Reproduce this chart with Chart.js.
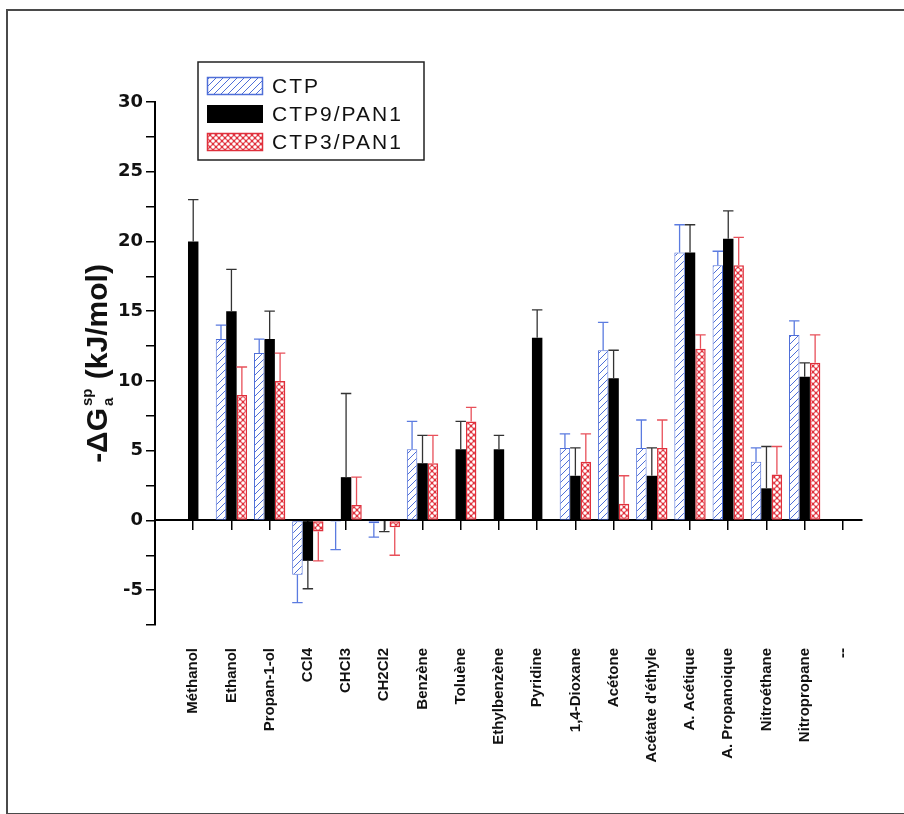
<!DOCTYPE html>
<html>
<head>
<meta charset="utf-8">
<script src="https://cdn.jsdelivr.net/npm/chart.js@4.4.0/dist/chart.umd.min.js"></script>
<style>
  html, body { margin: 0; padding: 0; background: #fff; overflow: hidden; }
  #cadre { position: absolute; left: 6px; top: 9px; width: 1000px; height: 802px; border: 2px solid #4a4a4a; border-right: none; }
  #zone { position: absolute; left: 0; top: 0; width: 904px; height: 814px; }
</style>
</head>
<body>
<div id="cadre"></div>
<div id="zone"><canvas id="graphique" width="904" height="814"></canvas></div>
<script>
const solvants = ['Méthanol', 'Ethanol', 'Propan-1-ol', 'CCl4', 'CHCl3', 'CH2Cl2', 'Benzène', 'Toluène', 'Ethylbenzène', 'Pyridine', '1,4-Dioxane', 'Acétone', "Acétate d'éthyle", 'A. Acétique', 'A. Propanoique', 'Nitroéthane', 'Nitropropane', '--']

const ctp     = [null, 13.0, 12.0, -3.9, -0.1, -0.2, 5.1, null, null, null, 5.2, 12.2, 5.2, 19.2, 18.3, 4.2, 13.3, null]
const ctpErr  = [null, 1, 1, 2, 2, 1, 2, null, null, null, 1, 2, 2, 2, 1, 1, 1, null]
const ctp9    = [20.0, 15.0, 13.0, -2.9, 3.1, -0.05, 4.1, 5.1, 5.1, 13.1, 3.2, 10.2, 3.2, 19.2, 20.2, 2.3, 10.3, null]
const ctp9Err = [3, 3, 2, 2, 6, 0.75, 2, 2, 1, 2, 2, 2, 2, 2, 2, 3, 1, null]
const ctp3    = [null, 9.0, 10.0, -0.8, 1.1, -0.5, 4.1, 7.1, null, null, 4.2, 1.2, 5.2, 12.3, 18.3, 3.3, 11.3, null]
const ctp3Err = [null, 2, 2, 2.1, 2, 2, 2, 1, null, null, 2, 2, 2, 1, 2, 2, 2, null]
const ticksY  = [-5, 0, 5, 10, 15, 20, 25, 30]

const bleu = '#4f6fd8'
const rouge = '#e0303c'

function points(valeurs) {
  return valeurs.map(function(v, i) { return { x: i + 1, y: v } })
}

function motifHachure() {
  const c = document.createElement('canvas')
  c.width = 7; c.height = 7
  const g = c.getContext('2d')
  g.fillStyle = '#fff'
  g.fillRect(0, 0, 7, 7)
  g.strokeStyle = bleu
  g.lineWidth = 1
  g.beginPath()
  g.moveTo(-1, 8); g.lineTo(8, -1)
  g.moveTo(-1, 1); g.lineTo(1, -1)
  g.moveTo(6, 8); g.lineTo(8, 6)
  g.stroke()
  return g.createPattern(c, 'repeat')
}

function motifCroisillon() {
  const c = document.createElement('canvas')
  c.width = 6; c.height = 6
  const g = c.getContext('2d')
  g.fillStyle = rouge
  g.fillRect(0, 0, 6, 6)
  g.fillStyle = '#fff'
  ;[[3, 3], [0, 0], [6, 0], [0, 6], [6, 6]].forEach(function(p) {
    g.beginPath()
    g.arc(p[0], p[1], 1.8, 0, Math.PI * 2)
    g.fill()
  })
  return g.createPattern(c, 'repeat')
}

function ticksSolvants(s) {
  s.ticks = solvants.map(function(n, i) { return { value: i + 1 } })
}

const barresErreur = {
  id: 'barresErreur',
  afterDatasetsDraw(chart) {
    const c = chart.ctx
    const ey = chart.scales.y
    chart.data.datasets.forEach(function(ds, i) {
      const meta = chart.getDatasetMeta(i)
      meta.data.forEach(function(barre, j) {
        const v = ds.data[j].y
        const e = ds.erreurs[j]
        if (v == null || e == null) return
        const fin = v < 0 ? v - e : v + e
        const y0 = ey.getPixelForValue(v)
        const y1 = ey.getPixelForValue(fin)
        c.save()
        c.strokeStyle = ds.couleurErreur
        c.lineWidth = 1.3
        c.beginPath()
        c.moveTo(barre.x, y0); c.lineTo(barre.x, y1)
        c.moveTo(barre.x - barre.width / 2, y1); c.lineTo(barre.x + barre.width / 2, y1)
        c.stroke()
        c.restore()
      })
    })
  }
}

const titreY = {
  id: 'titreY',
  afterDraw(chart) {
    const c = chart.ctx
    const gros = 'bold 30px "Liberation Sans", Arial'
    const petit = 'bold 15px "Liberation Sans", Arial'
    c.save()
    c.translate(107, 365)
    c.rotate(-Math.PI / 2)
    c.fillStyle = '#111'
    c.textBaseline = 'alphabetic'
    c.font = gros
    const w1 = c.measureText('-ΔG').width
    const w3 = c.measureText(' (kJ/mol)').width
    c.font = petit
    const w2 = Math.max(c.measureText('a').width, c.measureText('sp').width)
    let x = -(w1 + w2 + w3) / 2
    c.font = gros
    c.fillText('-ΔG', x, 0)
    x += w1
    c.font = petit
    c.fillText('a', x + 2, 6)
    c.fillText('sp', x + 2, -15)
    x += w2 + 3
    c.font = gros
    c.fillText(' (kJ/mol)', x, 0)
    c.restore()
  }
}

const legende = {
  id: 'legende',
  afterDraw(chart) {
    const c = chart.ctx
    c.save()
    c.fillStyle = '#fff'
    c.fillRect(198, 62, 226, 98)
    c.strokeStyle = '#222'
    c.lineWidth = 1.5
    c.strokeRect(198, 62, 226, 98)
    chart.data.datasets.forEach(function(ds, i) {
      const y = 77 + i * 28
      c.fillStyle = ds.backgroundColor
      c.fillRect(207, y, 56, 18)
      if (ds.borderWidth) {
        c.strokeStyle = ds.borderColor
        c.lineWidth = 1.5
        c.strokeRect(207.5, y + 0.5, 55, 17)
      }
      c.fillStyle = '#111'
      c.font = '21px "Liberation Sans", Arial'
      c.letterSpacing = '2px'
      c.textBaseline = 'middle'
      c.fillText(ds.label, 272, y + 10)
    })
    c.restore()
  }
}

const ctx = document.getElementById('graphique').getContext('2d')
new Chart(ctx, {
  type: 'bar',
  data: {
    datasets: [
      { label: 'CTP', data: points(ctp), erreurs: ctpErr, couleurErreur: '#5b7be0', xAxisID: 'x',
        backgroundColor: motifHachure(), borderColor: bleu, borderWidth: 1, borderSkipped: false },
      { label: 'CTP9/PAN1', data: points(ctp9), erreurs: ctp9Err, couleurErreur: '#333', xAxisID: 'x',
        backgroundColor: '#000', borderWidth: 0 },
      { label: 'CTP3/PAN1', data: points(ctp3), erreurs: ctp3Err, couleurErreur: '#e8505a', xAxisID: 'x',
        backgroundColor: motifCroisillon(), borderColor: rouge, borderWidth: 1.5, borderSkipped: false }
    ]
  },
  options: {
    responsive: false,
    animation: false,
    datasets: { bar: { categoryPercentage: 0.82, barPercentage: 1 } },
    layout: { padding: { top: 102, right: 42, bottom: 0, left: 0 } },
    plugins: { legend: { display: false }, tooltip: { enabled: false } },
    scales: {
      x: {
        type: 'linear', position: { y: 0 }, min: 0, max: 18.5, offset: false,
        afterBuildTicks: ticksSolvants,
        ticks: { display: false },
        grid: { offset: false, drawOnChartArea: false, drawTicks: true, tickLength: 9, color: '#000', lineWidth: 1.5 },
        border: { color: '#000', width: 2 }
      },
      x2: {
        type: 'linear', position: 'bottom', min: 0, max: 18.5, offset: false,
        afterBuildTicks: ticksSolvants,
        afterFit: function(s) { s.height = 189 },
        grid: { display: false, offset: false },
        border: { display: false },
        ticks: {
          autoSkip: false, maxRotation: 90, minRotation: 90, padding: 15, color: '#111',
          font: { family: '"Liberation Sans", Arial', weight: 'bold', size: 15 },
          callback: function(v) { return solvants[v - 1] || '' }
        }
      },
      y: {
        min: -7.5, max: 30,
        afterFit: function(s) { s.width = 155 },
        ticks: {
          stepSize: 2.5, autoSkip: false, padding: 3, color: '#111',
          font: { family: 'DejaVu Sans', weight: 'bold', size: 18 },
          callback: function(v) { return ticksY.includes(v) ? String(v) : '' }
        },
        grid: { drawOnChartArea: false, tickLength: 9, color: '#000', lineWidth: 1.5 },
        border: { color: '#000', width: 2 }
      }
    }
  },
  plugins: [barresErreur, titreY, legende]
})
</script>
</body>
</html>
